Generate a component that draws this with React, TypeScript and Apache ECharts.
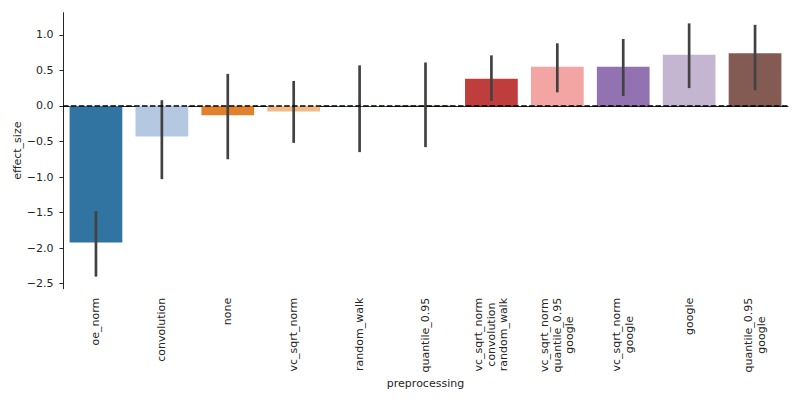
import React, { useEffect, useRef } from "react";
import * as echarts from "echarts";

const categories = [
  "oe_norm",
  "convolution",
  "none",
  "vc_sqrt_norm",
  "random_walk",
  "quantile_0.95",
  "vc_sqrt_norm\nconvolution\nrandom_walk",
  "vc_sqrt_norm\nquantile_0.95\ngoogle",
  "vc_sqrt_norm\ngoogle",
  "google",
  "quantile_0.95\ngoogle",
];
const means = [-1.92, -0.43, -0.13, -0.08, -0.01, 0.01, 0.38, 0.55, 0.55, 0.72, 0.74];
const ciLow = [-2.4, -1.03, -0.75, -0.52, -0.65, -0.58, 0.07, 0.19, 0.14, 0.25, 0.22];
const ciHigh = [-1.48, 0.08, 0.45, 0.35, 0.57, 0.61, 0.71, 0.88, 0.94, 1.16, 1.14];
const barColors = [
  "#3274a1", "#b5c8e1", "#e1812c", "#eebb89", "#3a923a", "#9fd495",
  "#c03d3e", "#f2a5a3", "#9372b2", "#c4b5d0", "#845b53",
];
const yTicks = [-2.5, -2.0, -1.5, -1.0, -0.5, 0.0, 0.5, 1.0];

const ink = "#262626";
const font = "'DejaVu Sans', sans-serif";

export default function App() {
  const ref = useRef<HTMLDivElement>(null);
  useEffect(() => {
    document.body.style.margin = "0";
    const chart = echarts.init(ref.current!, null, { renderer: "svg" });
    chart.setOption({
      animation: false,
      textStyle: { fontFamily: font },
      grid: {
        left: 63,
        right: 12,
        top: 12.7,
        bottom: 111.3,
        containLabel: false,
        outerBoundsMode: "none",
      },
      xAxis: {
        type: "category",
        data: categories,
        name: "preprocessing",
        nameLocation: "middle",
        nameGap: 89,
        nameMoveOverlap: false,
        nameTextStyle: { color: ink, fontSize: 11, fontFamily: font },
        axisLine: { lineStyle: { color: ink, width: 1 } },
        axisTick: { alignWithLabel: true, length: 3.5, lineStyle: { color: ink } },
        axisLabel: {
          rotate: 90,
          interval: 0,
          color: ink,
          fontSize: 11,
          fontFamily: font,
          lineHeight: 12.5,
          margin: 9,
          formatter: (v: string) =>
            v.split("\n").map((s) => `{c|${s}}`).join("\n"),
          rich: {
            c: {
              align: "center",
              color: ink,
              fontSize: 11,
              fontFamily: font,
              lineHeight: 12.5,
            },
          },
        },
      },
      yAxis: {
        type: "value",
        min: -2.57,
        max: 1.31,
        name: "effect_size",
        nameLocation: "middle",
        nameGap: 40,
        nameMoveOverlap: false,
        nameTextStyle: { color: ink, fontSize: 11, fontFamily: font },
        splitLine: { show: false },
        axisLine: { show: true, lineStyle: { color: ink, width: 1 } },
        axisTick: { show: true, length: 3.5, lineStyle: { color: ink }, customValues: yTicks },
        axisLabel: {
          color: ink,
          fontSize: 11,
          fontFamily: font,
          margin: 9.5,
          customValues: yTicks,
          formatter: (v: number) => v.toFixed(1).replace("-", "\u2212"),
        },
      },
      series: [
        {
          type: "bar",
          barWidth: "80%",
          data: means.map((v, i) => ({ value: v, itemStyle: { color: barColors[i] } })),
          markLine: {
            silent: true,
            symbol: ["none", "none"],
            label: { show: false },
            lineStyle: { color: "#000", type: [5.5, 2.4], width: 1.5 },
            data: [{ yAxis: 0 }],
          },
          z: 2,
        },
        {
          type: "custom",
          z: 3,
          data: categories.map((_, i) => [i, ciLow[i], ciHigh[i]]),
          renderItem: (params: any, api: any) => {
            const p1 = api.coord([api.value(0), api.value(1)]);
            const p2 = api.coord([api.value(0), api.value(2)]);
            return {
              type: "line",
              shape: { x1: p1[0], y1: p1[1], x2: p2[0], y2: p2[1] },
              style: { stroke: "#424242", lineWidth: 2.7 },
            };
          },
        },
      ],
    });
    return () => chart.dispose();
  }, []);
  return <div ref={ref} style={{ width: 800, height: 400 }} />;
}
